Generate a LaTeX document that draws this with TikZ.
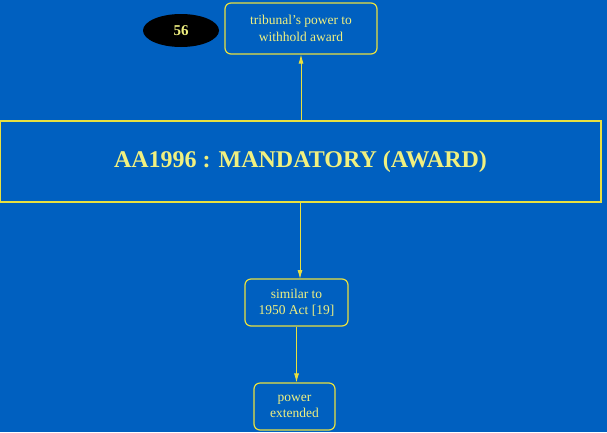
\documentclass[tikz,border=0pt]{standalone}
\usepackage{fontspec}
\setmainfont{Liberation Serif}
\usetikzlibrary{arrows.meta,shapes.geometric}
\definecolor{bg}{HTML}{0060C0}
\definecolor{ln}{HTML}{E8E040}
\definecolor{tx}{HTML}{F0F080}
\begin{document}
\begin{tikzpicture}[x=1pt,y=-1pt,
  box/.style={draw=ln,line width=1.2pt,rounded corners=6pt,text=tx,font=\fontsize{13.5}{16.5}\selectfont,align=center,inner sep=0pt},
  arr/.style={draw=ln,line width=0.8pt,-{Latex[length=9pt,width=5pt]}}]
\fill[bg] (0,0) rectangle (607,432);
\useasboundingbox (0,0) rectangle (607,432);
\node[box,minimum width=152pt,minimum height=51pt] (top) at (301,28.5) {tribunal's power to\\withhold award};
\node[fill=black,ellipse,minimum width=76pt,minimum height=33pt,text=tx,font=\bfseries\fontsize{15}{17}\selectfont,inner sep=0pt] (n56) at (181,30.5) {56};
\node[draw=ln,line width=1.2pt,minimum width=601pt,minimum height=81pt,text=tx,font=\bfseries\fontsize{24}{28}\selectfont,inner sep=0pt] (main) at (300.5,161.5) {AA1996 : MANDATORY (AWARD)};
\node[box,minimum width=103pt,minimum height=47pt] (mid) at (296.5,302.5) {similar to\\1950 Act [19]};
\node[box,minimum width=81pt,minimum height=47pt] (bot) at (294.5,406.5) {power\\extended};
\draw[arr] (main.north -| top.south) -- (top.south);
\draw[arr] (main.south -| 300,0) -- (300,279);
\draw[arr] (mid.south) -- (mid.south |- bot.north);
\end{tikzpicture}
\end{document}
